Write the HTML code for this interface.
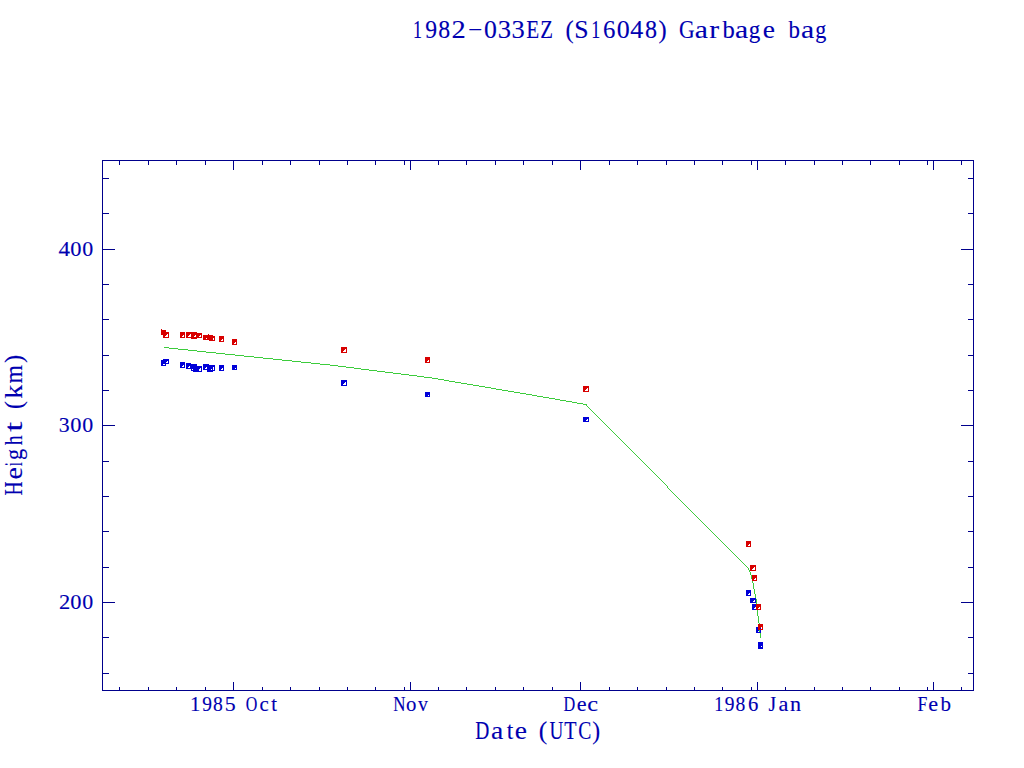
<!DOCTYPE html>
<html><head><meta charset="utf-8"><title>1982-033EZ (S16048) Garbage bag</title>
<style>
html,body{margin:0;padding:0;background:#fff;overflow:hidden}
svg{display:block}
text{font-family:"Liberation Serif",serif;fill:#0000b0;stroke:#0000b0;stroke-width:0.12}
</style></head><body>
<svg width="1024" height="768" viewBox="0 0 1024 768">
<rect x="0" y="0" width="1024" height="768" fill="#fff"/>
<path d="M102 160h872v1h-872zM102 690h872v1h-872zM102 160h1v531h-1zM973 160h1v531h-1zM233 682h1v8h-1zM233 161h1v9h-1zM410 682h1v8h-1zM410 161h1v9h-1zM580 682h1v8h-1zM580 161h1v9h-1zM757 682h1v8h-1zM757 161h1v9h-1zM933 682h1v8h-1zM933 161h1v9h-1zM119 687h1v3h-1zM119 161h1v4h-1zM148 687h1v3h-1zM148 161h1v4h-1zM176 687h1v3h-1zM176 161h1v4h-1zM205 687h1v3h-1zM205 161h1v4h-1zM262 687h1v3h-1zM262 161h1v4h-1zM290 687h1v3h-1zM290 161h1v4h-1zM319 687h1v3h-1zM319 161h1v4h-1zM347 687h1v3h-1zM347 161h1v4h-1zM375 687h1v3h-1zM375 161h1v4h-1zM404 687h1v3h-1zM404 161h1v4h-1zM438 687h1v3h-1zM438 161h1v4h-1zM466 687h1v3h-1zM466 161h1v4h-1zM495 687h1v3h-1zM495 161h1v4h-1zM523 687h1v3h-1zM523 161h1v4h-1zM552 687h1v3h-1zM552 161h1v4h-1zM609 687h1v3h-1zM609 161h1v4h-1zM637 687h1v3h-1zM637 161h1v4h-1zM666 687h1v3h-1zM666 161h1v4h-1zM694 687h1v3h-1zM694 161h1v4h-1zM722 687h1v3h-1zM722 161h1v4h-1zM751 687h1v3h-1zM751 161h1v4h-1zM785 687h1v3h-1zM785 161h1v4h-1zM814 687h1v3h-1zM814 161h1v4h-1zM842 687h1v3h-1zM842 161h1v4h-1zM870 687h1v3h-1zM870 161h1v4h-1zM899 687h1v3h-1zM899 161h1v4h-1zM927 687h1v3h-1zM927 161h1v4h-1zM961 687h1v3h-1zM961 161h1v4h-1zM103 673h6v1h-6zM968 673h6v1h-6zM103 637h6v1h-6zM968 637h6v1h-6zM103 602h12v1h-12zM961 602h12v1h-12zM103 567h6v1h-6zM968 567h6v1h-6zM103 531h6v1h-6zM968 531h6v1h-6zM103 496h6v1h-6zM968 496h6v1h-6zM103 461h6v1h-6zM968 461h6v1h-6zM103 425h12v1h-12zM961 425h12v1h-12zM103 390h6v1h-6zM968 390h6v1h-6zM103 355h6v1h-6zM968 355h6v1h-6zM103 319h6v1h-6zM968 319h6v1h-6zM103 284h6v1h-6zM968 284h6v1h-6zM103 249h12v1h-12zM961 249h12v1h-12zM103 213h6v1h-6zM968 213h6v1h-6zM103 178h6v1h-6zM968 178h6v1h-6z" fill="#00008c" shape-rendering="crispEdges"/>
<path d="M164 347h5v1h-5zM169 348h9v1h-9zM178 349h10v1h-10zM188 350h9v1h-9zM197 351h9v1h-9zM206 352h10v1h-10zM216 353h9v1h-9zM225 354h10v1h-10zM235 355h9v1h-9zM244 356h10v1h-10zM254 357h9v1h-9zM263 358h10v1h-10zM273 359h9v1h-9zM282 360h10v1h-10zM292 361h9v1h-9zM301 362h10v1h-10zM311 363h9v1h-9zM320 364h10v1h-10zM330 365h8v1h-8zM338 366h8v1h-8zM346 367h8v1h-8zM354 368h7v1h-7zM361 369h8v1h-8zM369 370h8v1h-8zM377 371h8v1h-8zM385 372h8v1h-8zM393 373h8v1h-8zM401 374h8v1h-8zM409 375h8v1h-8zM417 376h7v1h-7zM424 377h8v1h-8zM432 378h6v1h-6zM438 379h6v1h-6zM444 380h5v1h-5zM449 381h6v1h-6zM455 382h6v1h-6zM461 383h6v1h-6zM467 384h6v1h-6zM473 385h6v1h-6zM479 386h6v1h-6zM485 387h6v1h-6zM491 388h5v1h-5zM496 389h6v1h-6zM502 390h6v1h-6zM508 391h6v1h-6zM514 392h6v1h-6zM520 393h6v1h-6zM526 394h6v1h-6zM532 395h5v1h-5zM537 396h6v1h-6zM543 397h6v1h-6zM549 398h6v1h-6zM555 399h5v1h-5zM560 400h6v1h-6zM566 401h6v1h-6zM572 402h5v1h-5zM577 403h6v1h-6zM583 404h4v1h-4zM586 405h1v1h-1zM587 406h1v1h-1zM588 407h1v1h-1zM589 408h1v1h-1zM590 409h1v1h-1zM591 410h1v1h-1zM592 411h1v1h-1zM593 412h1v1h-1zM594 413h1v1h-1zM595 414h1v1h-1zM596 415h1v1h-1zM597 416h1v1h-1zM598 417h1v1h-1zM599 418h1v1h-1zM600 419h1v1h-1zM601 420h1v1h-1zM602 421h1v1h-1zM603 422h1v1h-1zM604 423h1v1h-1zM605 424h1v1h-1zM606 425h1v1h-1zM607 426h1v1h-1zM608 427h1v1h-1zM609 428h1v1h-1zM610 429h1v1h-1zM611 430h1v1h-1zM612 431h1v1h-1zM613 432h1v1h-1zM614 433h1v1h-1zM615 434h1v1h-1zM616 435h1v1h-1zM617 436h1v1h-1zM618 437h1v1h-1zM619 438h1v1h-1zM620 439h1v1h-1zM621 440h1v1h-1zM622 441h1v1h-1zM623 442h1v1h-1zM624 443h1v1h-1zM625 444h1v1h-1zM626 445h1v1h-1zM627 446h1v1h-1zM628 447h1v1h-1zM629 448h1v1h-1zM630 449h1v1h-1zM631 450h1v1h-1zM632 451h1v1h-1zM633 452h1v1h-1zM634 453h1v1h-1zM635 454h1v1h-1zM636 455h1v1h-1zM637 456h1v1h-1zM638 457h1v1h-1zM639 458h1v1h-1zM640 459h1v1h-1zM641 460h1v1h-1zM642 461h1v1h-1zM643 462h1v1h-1zM644 463h1v1h-1zM645 464h1v1h-1zM646 465h1v1h-1zM647 466h1v1h-1zM648 467h1v1h-1zM649 468h1v1h-1zM650 469h1v1h-1zM651 470h1v1h-1zM652 471h1v1h-1zM653 472h1v1h-1zM654 473h1v1h-1zM655 474h1v1h-1zM656 475h1v1h-1zM657 476h1v1h-1zM658 477h1v1h-1zM659 478h1v1h-1zM660 479h1v1h-1zM661 480h1v1h-1zM662 481h1v1h-1zM663 482h1v1h-1zM664 483h1v1h-1zM665 484h1v1h-1zM666 485h1v1h-1zM667 486h1v1h-1zM667 487h1v1h-1zM668 488h1v1h-1zM669 489h1v1h-1zM670 490h1v1h-1zM671 491h1v1h-1zM672 492h1v1h-1zM673 493h1v1h-1zM674 494h1v1h-1zM675 495h1v1h-1zM676 496h1v1h-1zM677 497h1v1h-1zM678 498h1v1h-1zM679 499h1v1h-1zM680 500h1v1h-1zM681 501h1v1h-1zM682 502h1v1h-1zM683 503h1v1h-1zM684 504h1v1h-1zM685 505h1v1h-1zM686 506h1v1h-1zM687 507h1v1h-1zM688 508h1v1h-1zM689 509h1v1h-1zM690 510h1v1h-1zM691 511h1v1h-1zM692 512h1v1h-1zM693 513h1v1h-1zM694 514h1v1h-1zM695 515h1v1h-1zM696 516h1v1h-1zM697 517h1v1h-1zM698 518h1v1h-1zM699 519h1v1h-1zM700 520h1v1h-1zM701 521h1v1h-1zM702 522h1v1h-1zM703 523h1v1h-1zM704 524h1v1h-1zM705 525h1v1h-1zM706 526h1v1h-1zM707 527h1v1h-1zM708 528h1v1h-1zM709 529h1v1h-1zM710 530h1v1h-1zM711 531h1v1h-1zM712 532h1v1h-1zM713 533h1v1h-1zM714 534h1v1h-1zM715 535h1v1h-1zM716 536h1v1h-1zM717 537h1v1h-1zM718 538h1v1h-1zM719 539h1v1h-1zM720 540h1v1h-1zM721 541h1v1h-1zM722 542h1v1h-1zM723 543h1v1h-1zM724 544h1v1h-1zM725 545h1v1h-1zM726 546h1v1h-1zM727 547h1v1h-1zM728 548h1v1h-1zM729 549h1v1h-1zM730 550h1v1h-1zM731 551h1v1h-1zM732 552h1v1h-1zM733 553h1v1h-1zM734 554h1v1h-1zM735 555h1v1h-1zM736 556h1v1h-1zM737 557h1v1h-1zM738 558h1v1h-1zM739 559h1v1h-1zM740 560h1v1h-1zM741 561h1v1h-1zM742 562h1v1h-1zM743 563h1v1h-1zM744 564h1v1h-1zM745 565h1v1h-1zM746 566h1v1h-1zM747 567h1v1h-1zM748 568h1v1h-1zM748 569h1v1h-1zM749 570h1v1h-1zM749 571h1v1h-1zM750 572h1v1h-1zM750 573h1v1h-1zM750 574h1v1h-1zM751 575h1v1h-1zM751 576h1v1h-1zM751 577h1v1h-1zM751 578h1v1h-1zM752 579h1v1h-1zM752 580h1v1h-1zM752 581h1v1h-1zM752 582h1v1h-1zM753 583h1v1h-1zM753 584h1v1h-1zM753 585h1v1h-1zM753 586h1v1h-1zM753 587h1v1h-1zM753 588h1v1h-1zM754 589h1v1h-1zM754 590h1v1h-1zM754 591h1v1h-1zM754 592h1v1h-1zM754 593h1v1h-1zM755 594h1v1h-1zM755 595h1v1h-1zM755 596h1v1h-1zM755 597h1v1h-1zM755 598h1v1h-1zM756 599h1v1h-1zM756 600h1v1h-1zM756 601h1v1h-1zM756 602h1v1h-1zM756 603h1v1h-1zM756 604h1v1h-1zM756 605h1v1h-1zM756 606h1v1h-1zM757 607h1v1h-1zM757 608h1v1h-1zM757 609h1v1h-1zM757 610h1v1h-1zM757 611h1v1h-1zM757 612h1v1h-1zM757 613h1v1h-1zM757 614h1v1h-1zM757 615h1v1h-1zM758 616h1v1h-1zM758 617h1v1h-1zM758 618h1v1h-1zM758 619h1v1h-1zM758 620h1v1h-1zM758 621h1v1h-1zM758 622h1v1h-1zM759 623h1v1h-1zM759 624h1v1h-1zM759 625h1v1h-1zM759 626h1v1h-1zM759 627h1v1h-1zM759 628h1v1h-1zM759 629h1v1h-1zM759 630h1v1h-1zM759 631h1v1h-1zM759 632h1v1h-1zM760 633h1v1h-1zM760 634h1v1h-1zM760 635h1v1h-1zM760 636h1v1h-1zM760 637h1v1h-1z" fill="#3ccc3c" shape-rendering="crispEdges"/>
<path d="M163 359h6v1h-6zM161 360h8v1h-8zM161 361h6v1h-6zM168 361h1v1h-1zM161 362h5v1h-5zM168 362h1v1h-1zM180 362h5v1h-5zM161 363h8v1h-8zM180 363h5v1h-5zM186 363h5v1h-5zM161 364h2v1h-2zM165 364h1v1h-1zM180 364h5v1h-5zM186 364h11v1h-11zM203 364h6v1h-6zM161 365h5v1h-5zM180 365h3v1h-3zM184 365h1v1h-1zM186 365h11v1h-11zM203 365h12v1h-12zM219 365h5v1h-5zM232 365h5v1h-5zM180 366h2v1h-2zM184 366h1v1h-1zM186 366h3v1h-3zM190 366h12v1h-12zM203 366h12v1h-12zM219 366h5v1h-5zM232 366h5v1h-5zM180 367h5v1h-5zM186 367h2v1h-2zM190 367h12v1h-12zM203 367h3v1h-3zM207 367h6v1h-6zM214 367h1v1h-1zM219 367h5v1h-5zM232 367h5v1h-5zM186 368h14v1h-14zM201 368h1v1h-1zM203 368h2v1h-2zM207 368h6v1h-6zM214 368h1v1h-1zM219 368h3v1h-3zM223 368h1v1h-1zM232 368h3v1h-3zM236 368h1v1h-1zM191 369h1v1h-1zM193 369h6v1h-6zM201 369h1v1h-1zM203 369h8v1h-8zM212 369h1v1h-1zM214 369h1v1h-1zM219 369h2v1h-2zM223 369h1v1h-1zM232 369h5v1h-5zM191 370h8v1h-8zM201 370h1v1h-1zM207 370h8v1h-8zM219 370h5v1h-5zM193 371h9v1h-9zM207 371h6v1h-6zM341 380h6v1h-6zM341 381h6v1h-6zM341 382h4v1h-4zM346 382h1v1h-1zM341 383h3v1h-3zM346 383h1v1h-1zM341 384h2v1h-2zM346 384h1v1h-1zM341 385h6v1h-6zM425 392h5v1h-5zM425 393h5v1h-5zM425 394h5v1h-5zM425 395h3v1h-3zM429 395h1v1h-1zM425 396h5v1h-5zM583 417h6v1h-6zM583 418h6v1h-6zM583 419h4v1h-4zM588 419h1v1h-1zM583 420h3v1h-3zM588 420h1v1h-1zM583 421h6v1h-6zM746 590h5v1h-5zM746 591h5v1h-5zM746 592h5v1h-5zM746 593h3v1h-3zM750 593h1v1h-1zM746 594h2v1h-2zM750 594h1v1h-1zM746 595h5v1h-5zM750 598h6v1h-6zM750 599h6v1h-6zM750 600h4v1h-4zM755 600h1v1h-1zM750 601h3v1h-3zM755 601h1v1h-1zM750 602h6v1h-6zM752 604h5v1h-5zM752 605h5v1h-5zM752 606h5v1h-5zM752 607h3v1h-3zM756 607h1v1h-1zM752 608h2v1h-2zM756 608h1v1h-1zM752 609h5v1h-5zM756 627h5v1h-5zM756 628h5v1h-5zM756 629h5v1h-5zM756 630h3v1h-3zM760 630h1v1h-1zM756 631h2v1h-2zM760 631h1v1h-1zM756 632h5v1h-5zM758 642h5v1h-5zM758 643h5v1h-5zM758 644h5v1h-5zM758 645h5v1h-5zM758 646h3v1h-3zM762 646h1v1h-1zM758 647h5v1h-5zM758 648h5v1h-5z" fill="#0000d8" shape-rendering="crispEdges"/>
<path d="M161 329h1v1h-1zM161 330h5v1h-5zM161 331h5v1h-5zM161 332h8v1h-8zM180 332h5v1h-5zM186 332h11v1h-11zM161 333h8v1h-8zM180 333h5v1h-5zM186 333h16v1h-16zM161 334h6v1h-6zM168 334h1v1h-1zM180 334h5v1h-5zM186 334h4v1h-4zM191 334h11v1h-11zM208 334h1v1h-1zM163 335h3v1h-3zM168 335h1v1h-1zM180 335h3v1h-3zM184 335h1v1h-1zM186 335h3v1h-3zM191 335h4v1h-4zM196 335h4v1h-4zM201 335h1v1h-1zM203 335h10v1h-10zM163 336h2v1h-2zM168 336h1v1h-1zM180 336h2v1h-2zM184 336h1v1h-1zM186 336h2v1h-2zM191 336h3v1h-3zM196 336h3v1h-3zM201 336h1v1h-1zM203 336h12v1h-12zM219 336h5v1h-5zM163 337h6v1h-6zM180 337h5v1h-5zM186 337h16v1h-16zM203 337h12v1h-12zM219 337h5v1h-5zM191 338h6v1h-6zM203 338h3v1h-3zM207 338h6v1h-6zM214 338h1v1h-1zM219 338h5v1h-5zM203 339h10v1h-10zM214 339h1v1h-1zM219 339h3v1h-3zM223 339h1v1h-1zM232 339h5v1h-5zM209 340h6v1h-6zM219 340h2v1h-2zM223 340h1v1h-1zM232 340h5v1h-5zM219 341h5v1h-5zM232 341h5v1h-5zM232 342h3v1h-3zM236 342h1v1h-1zM232 343h2v1h-2zM236 343h1v1h-1zM232 344h5v1h-5zM341 347h6v1h-6zM341 348h6v1h-6zM341 349h4v1h-4zM346 349h1v1h-1zM341 350h3v1h-3zM346 350h1v1h-1zM341 351h2v1h-2zM346 351h1v1h-1zM341 352h6v1h-6zM425 357h5v1h-5zM425 358h5v1h-5zM425 359h5v1h-5zM425 360h3v1h-3zM429 360h1v1h-1zM425 361h2v1h-2zM429 361h1v1h-1zM425 362h5v1h-5zM583 386h6v1h-6zM583 387h6v1h-6zM583 388h4v1h-4zM588 388h1v1h-1zM583 389h3v1h-3zM588 389h1v1h-1zM583 390h2v1h-2zM588 390h1v1h-1zM583 391h6v1h-6zM746 541h5v1h-5zM746 542h5v1h-5zM746 543h5v1h-5zM746 544h3v1h-3zM750 544h1v1h-1zM746 545h2v1h-2zM750 545h1v1h-1zM746 546h5v1h-5zM750 565h6v1h-6zM750 566h6v1h-6zM750 567h4v1h-4zM755 567h1v1h-1zM750 568h3v1h-3zM755 568h1v1h-1zM750 569h2v1h-2zM755 569h1v1h-1zM750 570h6v1h-6zM752 575h5v1h-5zM752 576h5v1h-5zM752 577h5v1h-5zM752 578h3v1h-3zM756 578h1v1h-1zM752 579h2v1h-2zM756 579h1v1h-1zM752 580h5v1h-5zM756 604h5v1h-5zM756 605h5v1h-5zM756 606h5v1h-5zM756 607h3v1h-3zM760 607h1v1h-1zM756 608h2v1h-2zM760 608h1v1h-1zM756 609h5v1h-5zM758 624h5v1h-5zM758 625h5v1h-5zM758 626h5v1h-5zM758 627h3v1h-3zM762 627h1v1h-1zM758 628h2v1h-2zM762 628h1v1h-1zM758 629h5v1h-5z" fill="#d80000" shape-rendering="crispEdges"/>
<text transform="translate(412.93,38) scale(0.716,1)" font-size="25">1</text>
<text transform="translate(425.14,38) scale(0.947,1)" font-size="25">9</text>
<text transform="translate(438.29,38) scale(0.953,1)" font-size="25">8</text>
<text transform="translate(451.55,38) scale(1.138,1)" font-size="25">2</text>
<text transform="translate(467.94,38) scale(1.014,1)" font-size="25">−</text>
<text transform="translate(484.12,38) scale(1.029,1)" font-size="25">0</text>
<text transform="translate(497.83,38) scale(1.065,1)" font-size="25">3</text>
<text transform="translate(511.53,38) scale(1.060,1)" font-size="25">3</text>
<text transform="translate(526.29,38) scale(0.849,1)" font-size="25">E</text>
<text transform="translate(540.30,38) scale(0.834,1)" font-size="25">Z</text>
<text transform="translate(565.42,38) scale(0.981,1)" font-size="25">(</text>
<text transform="translate(574.18,38) scale(1.030,1)" font-size="25">S</text>
<text transform="translate(591.13,38) scale(0.716,1)" font-size="25">1</text>
<text transform="translate(602.93,38) scale(0.992,1)" font-size="25">6</text>
<text transform="translate(616.71,38) scale(1.038,1)" font-size="25">0</text>
<text transform="translate(630.19,38) scale(1.041,1)" font-size="25">4</text>
<text transform="translate(644.98,38) scale(0.963,1)" font-size="25">8</text>
<text transform="translate(658.41,38) scale(0.981,1)" font-size="25">)</text>
<text transform="translate(679.01,38) scale(0.868,1)" font-size="25">G</text>
<text transform="translate(694.86,38) scale(1.185,1)" font-size="25">a</text>
<text transform="translate(709.31,38) scale(1.183,1)" font-size="25">r</text>
<text transform="translate(722.40,38) scale(0.983,1)" font-size="25">b</text>
<text transform="translate(735.06,38) scale(1.185,1)" font-size="25">a</text>
<text transform="translate(748.81,38) scale(0.922,1)" font-size="25">g</text>
<text transform="translate(762.72,38) scale(1.102,1)" font-size="25">e</text>
<text transform="translate(788.40,38) scale(0.918,1)" font-size="25">b</text>
<text transform="translate(801.06,38) scale(1.185,1)" font-size="25">a</text>
<text transform="translate(815.25,38) scale(0.886,1)" font-size="25">g</text>
<text transform="translate(475.24,739) scale(0.778,1)" font-size="25">D</text>
<text transform="translate(490.93,739) scale(1.104,1)" font-size="25">a</text>
<text transform="translate(506.67,739) scale(0.946,1)" font-size="25">t</text>
<text transform="translate(514.72,739) scale(1.102,1)" font-size="25">e</text>
<text transform="translate(538.69,739) scale(1.012,1)" font-size="25">(</text>
<text transform="translate(549.60,739) scale(0.765,1)" font-size="25">U</text>
<text transform="translate(564.34,739) scale(0.805,1)" font-size="25">T</text>
<text transform="translate(578.30,739) scale(0.785,1)" font-size="25">C</text>
<text transform="translate(592.33,739) scale(0.950,1)" font-size="25">)</text>
<text transform="translate(22,495.56) rotate(-90) scale(0.783,1)" font-size="25">H</text>
<text transform="translate(22,479.40) rotate(-90) scale(1.124,1)" font-size="25">e</text>
<text transform="translate(22,466.07) rotate(-90) scale(0.521,1)" font-size="25">i</text>
<text transform="translate(22,459.96) rotate(-90) scale(0.895,1)" font-size="25">g</text>
<text transform="translate(22,445.19) rotate(-90) scale(0.788,1)" font-size="25">h</text>
<text transform="translate(22,431.85) rotate(-90) scale(1.449,1)" font-size="25">t</text>
<text transform="translate(22,409.06) rotate(-90) scale(0.966,1)" font-size="25">(</text>
<text transform="translate(22,398.63) rotate(-90) scale(1.123,1)" font-size="25">k</text>
<text transform="translate(22,383.50) rotate(-90) scale(0.955,1)" font-size="25">m</text>
<text transform="translate(22,362.99) rotate(-90) scale(0.981,1)" font-size="25">)</text>
<text transform="translate(58.55,256) scale(1.151,1)" font-size="20">4</text>
<text transform="translate(70.25,256) scale(1.121,1)" font-size="20">0</text>
<text transform="translate(82.26,256) scale(1.097,1)" font-size="20">0</text>
<text transform="translate(58.86,432) scale(1.089,1)" font-size="20">3</text>
<text transform="translate(70.25,432) scale(1.121,1)" font-size="20">0</text>
<text transform="translate(82.26,432) scale(1.097,1)" font-size="20">0</text>
<text transform="translate(58.91,609) scale(1.123,1)" font-size="20">2</text>
<text transform="translate(70.25,609) scale(1.121,1)" font-size="20">0</text>
<text transform="translate(82.26,609) scale(1.097,1)" font-size="20">0</text>
<text transform="translate(189.98,711) scale(1.037,1)" font-size="20">1</text>
<text transform="translate(202.37,711) scale(0.972,1)" font-size="20">9</text>
<text transform="translate(213.05,711) scale(0.979,1)" font-size="20">8</text>
<text transform="translate(224.73,711) scale(1.092,1)" font-size="20">5</text>
<text transform="translate(245.84,711) scale(0.801,1)" font-size="20">O</text>
<text transform="translate(259.41,711) scale(1.040,1)" font-size="20">c</text>
<text transform="translate(271.20,711) scale(1.030,1)" font-size="20">t</text>
<text transform="translate(393.31,711) scale(0.850,1)" font-size="20">N</text>
<text transform="translate(406.11,711) scale(1.038,1)" font-size="20">o</text>
<text transform="translate(418.10,711) scale(0.990,1)" font-size="20">v</text>
<text transform="translate(563.53,711) scale(0.811,1)" font-size="20">D</text>
<text transform="translate(576.63,711) scale(1.108,1)" font-size="20">e</text>
<text transform="translate(587.18,711) scale(1.213,1)" font-size="20">c</text>
<text transform="translate(714.23,711) scale(0.895,1)" font-size="20">1</text>
<text transform="translate(724.87,711) scale(0.972,1)" font-size="20">9</text>
<text transform="translate(735.55,711) scale(0.979,1)" font-size="20">8</text>
<text transform="translate(748.11,711) scale(1.030,1)" font-size="20">6</text>
<text transform="translate(768.59,711) scale(0.979,1)" font-size="20">J</text>
<text transform="translate(778.42,711) scale(1.114,1)" font-size="20">a</text>
<text transform="translate(789.99,711) scale(1.104,1)" font-size="20">n</text>
<text transform="translate(917.39,711) scale(0.886,1)" font-size="20">F</text>
<text transform="translate(928.33,711) scale(1.108,1)" font-size="20">e</text>
<text transform="translate(940.60,711) scale(1.050,1)" font-size="20">b</text>
</svg>
</body></html>
